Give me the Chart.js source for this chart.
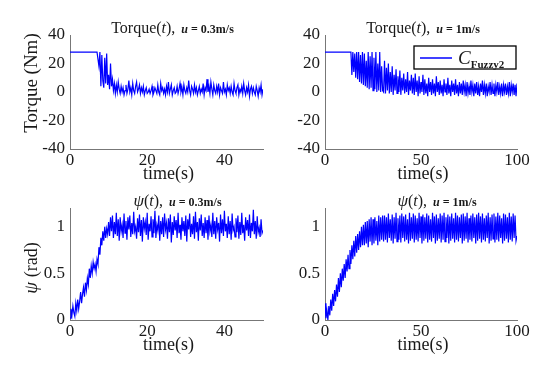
<!DOCTYPE html>
<html>
<head>
<meta charset="utf-8">
<script src="https://cdn.jsdelivr.net/npm/chart.js@4.4.0/dist/chart.umd.min.js"></script>
<style>
html, body { margin: 0; padding: 0; background: #fff; }
#wrap { position: relative; width: 550px; height: 374px; background: #fff; }
canvas { position: absolute; left: 0; top: 0; }
</style>
</head>
<body>
<div id="wrap">
	<canvas id="c1" width="550" height="374"></canvas>
	<canvas id="c2" width="550" height="374"></canvas>
	<canvas id="c3" width="550" height="374"></canvas>
	<canvas id="c4" width="550" height="374"></canvas>
</div>
<script>
// DATA
// ================================================================
// sample steps (s)
var dtSlow = 0.25;   // u = 0.3 m/s runs, 0..50 s
var dtFast = 0.5;    // u = 1 m/s runs, 0..100 s

var torqueSlow = [
	28,28,28,28,28,28,28,28,28,28, 28,28,28,28,28,28,28,28,28,28,
	28,28,28,28,28,28,28,28,28,28,
	18,28,4,26,8,3,24,6,27,5, 12,2,20,4,9,1,6,-1,5,0, 7,
	2,-1,4,0,3,-2,1,5,-1,2, 8,0,3,-2,6,1,-1,4,7,0,
	2,5,-1,3,0,4,-2,1,3,-1, 0,2,-1,1,4,-2,0,3,1,-1,
	5,0,-2,6,1,3,-1,2,-2,4, 0,7,-1,2,5,-2,1,3,-1,0,
	4,-1,2,6,0,3,-2,5,1,-1, 3,0,8,1,-2,4,2,-1,5,0,
	3,-2,1,4,-1,2,0,6,-2,3, 1,9,0,4,-1,7,2,-2,5,1,
	-1,4,0,6,-2,3,1,-1,7,0, 2,-2,5,1,3,-1,4,0,-2,6,
	1,-1,3,5,-2,2,0,4,-1,6, 1,-2,3,0,5,-3,2,4,-1,3,
	0,-2,4,1,-3,3,0,5,-2,2
];

var torqueFast = [
	28,28,28,28,28,28,28,28,28,28, 28,28,28,28,28,28,28,28,28,28,
	28,28,28,28,28,28,28,28,
	12,28,14,27,10,28,9,28,7,26,
	6,28,5,27,4,22,3,28,2,25,
	3,28,1,24,2,28,0,20,1,28, 0,18,1,
	0,22,-1,17,1,20,-1,14,0,18, -2,12,1,16,-1,11,0,15,-2,10, 1,13,-1,9,0,14,-2,8,1,12,
	-1,10,-2,13,0,8,-3,11,-1,7, 0,12,-2,9,-1,6,-3,10,0,7,
	-2,9,-1,6,-3,11,0,7,-2,8, -1,5,-3,9,0,6,-2,10,-1,5,
	-3,8,0,6,-2,9,-1,5,-3,7,
	-1,6,-2,8,0,5,-3,7,-1,4, -2,8,0,5,-3,6,-1,7,-2,4,
	-3,6,0,8,-2,5,-1,6,-3,4, 0,7,-2,5,-1,6,-3,5,0,7,
	-2,4,-1,6,-3,5,0,6,-2,4, -1,7,-3,5,0,6,-2,5,-3,6
];

var psiSlow = [
	0.02,0.12,0.05,0.15,0.08,0.04,0.18,0.1,0.22,0.12,
	0.2,0.3,0.18,0.28,0.35,0.25,0.4,0.32,0.45,0.38,
	0.55,0.45,0.58,0.5,0.62,0.55,0.6,0.52,0.65,0.6,
	0.78,0.7,0.88,0.8,0.95,0.85,1.0,0.88,0.98,0.92, 1.05,
	0.9,1.1,0.95,1.12,0.88,1.05,0.92,1.15,0.9,1.08,
	0.85,1.1,0.95,1.02,0.88,1.14,0.93,1.06,0.86,1.1,
	0.97,1.12,0.89,1.04,0.92,1.16,0.95,1.0,0.87,1.09,
	0.94,1.13,0.9,1.07,0.84,1.1,0.98,1.05,0.91,1.15,
	0.86,1.03,0.95,1.11,0.89,1.08,0.93,1.17,0.88,1.02,
	0.96,1.12,0.85,1.06,0.92,1.1,0.89,1.14,0.97,1.04,
	0.87,1.09,0.94,1.13,0.83,1.05,0.91,1.11,0.96,1.07,
	0.88,1.15,0.93,1.02,0.86,1.1,0.95,1.06,0.9,1.12,
	0.84,1.08,0.97,1.14,0.89,1.03,0.92,1.11,0.87,1.16,
	0.94,1.05,0.85,1.09,0.96,1.13,0.9,1.04,0.88,1.1,
	0.93,1.07,0.86,1.12,0.95,1.02,0.89,1.15,0.92,1.06,
	0.87,1.1,0.97,1.04,0.84,1.13,0.93,1.08,0.9,1.17,
	0.95,1.03,0.88,1.11,0.92,1.06,0.86,1.14,0.96,1.0,
	0.89,1.09,0.94,1.12,0.87,1.05,0.91,1.15,0.93,1.02,
	0.85,1.1,0.96,1.07,0.9,1.13,0.88,1.04,0.95,1.18,
	0.92,1.06,0.87,1.11,0.94,0.99,0.89,1.08,0.93,0.96
];

var psiFast = [
	0.18,0.02,0.1,0.0,0.15,0.05,0.22,0.1,0.28,0.15,
	0.32,0.2,0.38,0.25,0.45,0.3,0.5,0.35,0.55,0.42,
	0.6,0.45,0.65,0.52,0.7,0.55,0.75,0.6,0.8,0.65,
	0.85,0.68,0.9,0.72,0.92,0.75,0.95,0.78,1.0,0.8,
	1.02,0.8,1.05,0.82,1.06,0.78,1.08,0.84,1.1,0.8,
	1.08,0.82,1.1,0.85,1.06,0.8,1.12,0.84,1.1,0.86, 1.12,
	0.84,1.12,0.86,1.1,0.83,1.14,0.88,1.08,0.85,1.13,
	0.82,1.1,0.87,1.15,0.84,1.09,0.86,1.12,0.83,1.14,
	0.88,1.11,0.84,1.13,0.86,1.08,0.82,1.15,0.85,1.1,
	0.87,1.14,0.83,1.12,0.86,1.09,0.84,1.15,0.88,1.11,
	0.82,1.13,0.85,1.1,0.87,1.14,0.83,1.12,0.86,1.08,
	0.84,1.15,0.88,1.11,0.82,1.13,0.85,1.09,0.87,1.14,
	0.83,1.12,0.86,1.15,0.84,1.1,0.88,1.13,0.82,1.11,
	0.85,1.14,0.87,1.09,0.83,1.15,0.86,1.12,0.84,1.1,
	0.88,1.13,0.82,1.14,0.85,1.11,0.87,1.15,0.83,1.09,
	0.86,1.12,0.84,1.14,0.88,1.1,0.82,1.13,0.85,1.15,
	0.87,1.11,0.83,1.14,0.86,1.09,0.84,1.12,0.88,1.15,
	0.82,1.1,0.85,1.13,0.87,1.14,0.83,1.11,0.86,1.15,
	0.84,1.12,0.88,1.09,0.82,1.14,0.85,1.13,0.87,1.1,
	0.83,1.15,0.86,1.11,0.84,1.14,0.88,1.12,0.85,0.9
];

// axis ranges / tick steps
var torqueRange = [-40, 40], torqueStep = 20;
var psiRange = [0, 1.2], psiStep = 0.5;
var timeSlow = [0, 50], timeSlowStep = 20;
var timeFast = [0, 100], timeFastStep = 50;


// STYLE
// ================================================================
var SERIF = '"Liberation Serif", "DejaVu Serif", serif';
var BLUE = '#0000ff';
var INK = '#1a1a1a';

function toPoints(vals, dt) {
	return vals.map(function (v, i) { return { x: i * dt, y: v }; });
}

// draw a row of text pieces with different fonts
function drawParts(ctx, parts, x, y, align) {
	var total = 0;
	parts.forEach(function (p) {
		ctx.font = p.font;
		p.w = ctx.measureText(p.text).width + (p.gap || 0);
		total += p.w;
	});
	var cx = align === 'center' ? x - total / 2 : x;
	parts.forEach(function (p) {
		ctx.font = p.font;
		ctx.fillText(p.text, cx, y + (p.dy || 0));
		cx += p.w;
	});
}

var labelPlugin = {
	id: 'labels',
	afterDraw: function (chart, args, o) {
		var ctx = chart.ctx, a = chart.chartArea;
		var mid = (a.left + a.right) / 2;
		ctx.save();
		ctx.fillStyle = INK;
		ctx.textBaseline = 'alphabetic';
		ctx.textAlign = 'left';

		drawParts(ctx, o.title, mid + o.titleDx, a.top - 2, 'center');
		drawParts(ctx, [{ text: 'time(s)', font: '18px ' + SERIF }], mid + 2, a.bottom + 30, 'center');

		if (o.yTitle) {
			ctx.save();
			ctx.translate(31, (a.top + a.bottom) / 2 + o.yTitleDy);
			ctx.rotate(-Math.PI / 2);
			drawParts(ctx, o.yTitle, 0, 6, 'center');
			ctx.restore();
		}

		if (o.legend) {
			var bx = a.right - 103, by = a.top + 11, bw = 102, bh = 23;
			ctx.fillStyle = '#fff';
			ctx.fillRect(bx, by, bw, bh);
			ctx.strokeStyle = '#000';
			ctx.lineWidth = 1.3;
			ctx.strokeRect(bx, by, bw, bh);
			ctx.strokeStyle = BLUE;
			ctx.lineWidth = 1.5;
			ctx.beginPath();
			ctx.moveTo(bx + 6, by + 12);
			ctx.lineTo(bx + 38, by + 12);
			ctx.stroke();
			ctx.fillStyle = INK;
			drawParts(ctx, [
				{ text: 'C', font: 'italic 19px ' + SERIF },
				{ text: 'Fuzzy2', font: 'bold 11px ' + SERIF, dy: 4 }
			], bx + 44, by + 18, 'left');
		}
		ctx.restore();
	}
};

function titleParts(head, speed) {
	var big = '16px ' + SERIF, ital = 'italic 16px ' + SERIF;
	var small = 'bold 12px ' + SERIF;
	var parts = [];
	if (head === 'psi') {
		parts.push({ text: 'ψ', font: 'italic 17px ' + SERIF });
	} else {
		parts.push({ text: 'Torque', font: big });
	}
	parts.push({ text: '(', font: big });
	parts.push({ text: 't', font: ital });
	parts.push({ text: '), ', font: big, gap: 2 });
	parts.push({ text: 'u', font: 'italic ' + small, gap: 3 });
	parts.push({ text: '=', font: small, gap: 3 });
	parts.push({ text: speed, font: small });
	return parts;
}

var Y_W = 40, X_H = 20;

function makeChart(id, c) {
	var tickFont = { family: SERIF, size: 17 };
	return new Chart(document.getElementById(id), {
		type: 'line',
		data: {
			datasets: [{
				data: c.points,
				borderColor: BLUE,
				borderWidth: 1.2,
				pointRadius: 0,
				tension: 0
			}]
		},
		options: {
			responsive: false,
			animation: false,
			events: [],
			layout: {
				padding: {
					left: c.area.l - Y_W,
					right: 550 - c.area.r,
					top: c.area.t,
					bottom: 374 - c.area.b - X_H
				}
			},
			plugins: {
				legend: { display: false },
				tooltip: { enabled: false },
				labels: c.labels
			},
			scales: {
				x: {
					type: 'linear',
					min: c.xRange[0],
					max: c.xRange[1],
					afterFit: function (s) { s.height = X_H; },
					ticks: {
						stepSize: c.xStep,
						includeBounds: false,
						maxRotation: 0,
						padding: 1,
						color: INK,
						font: tickFont,
						callback: function (v) { return String(v); }
					},
					grid: { display: false, drawTicks: false },
					border: { color: '#777', width: 1 }
				},
				y: {
					min: c.yRange[0],
					max: c.yRange[1],
					afterFit: function (s) { s.width = Y_W; },
					ticks: {
						stepSize: c.yStep,
						includeBounds: false,
						padding: 5,
						color: INK,
						font: tickFont,
						callback: function (v) { return String(v); }
					},
					grid: { display: false, drawTicks: false },
					border: { color: '#777', width: 1 }
				}
			}
		},
		plugins: [labelPlugin]
	});
}


// CHARTS
// ================================================================
makeChart('c1', {
	points: toPoints(torqueSlow, dtSlow),
	area: { l: 70, r: 263, t: 35, b: 149 },
	xRange: timeSlow, xStep: timeSlowStep,
	yRange: torqueRange, yStep: torqueStep,
	labels: {
		title: titleParts('torque', '0.3m/s'), titleDx: 6,
		yTitle: [{ text: 'Torque (Nm)', font: '19px ' + SERIF }], yTitleDy: -9
	}
});

makeChart('c2', {
	points: toPoints(torqueFast, dtFast),
	area: { l: 325, r: 517, t: 35, b: 149 },
	xRange: timeFast, xStep: timeFastStep,
	yRange: torqueRange, yStep: torqueStep,
	labels: {
		title: titleParts('torque', '1m/s'), titleDx: 2,
		legend: true
	}
});

makeChart('c3', {
	points: toPoints(psiSlow, dtSlow),
	area: { l: 70, r: 263, t: 208, b: 320 },
	xRange: timeSlow, xStep: timeSlowStep,
	yRange: psiRange, yStep: psiStep,
	labels: {
		title: titleParts('psi', '0.3m/s'), titleDx: 11,
		yTitle: [
			{ text: 'ψ', font: 'italic 19px ' + SERIF },
			{ text: ' (rad)', font: '18px ' + SERIF }
		], yTitleDy: 4
	}
});

makeChart('c4', {
	points: toPoints(psiFast, dtFast),
	area: { l: 325, r: 517, t: 208, b: 320 },
	xRange: timeFast, xStep: timeFastStep,
	yRange: psiRange, yStep: psiStep,
	labels: {
		title: titleParts('psi', '1m/s'), titleDx: 16
	}
});
</script>
</body>
</html>
